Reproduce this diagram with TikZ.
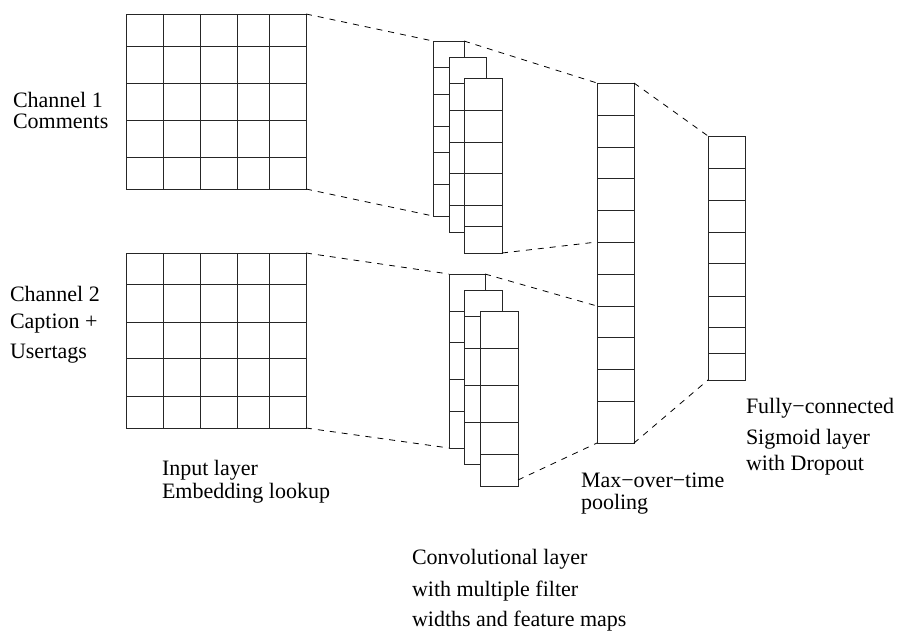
\documentclass[tikz,border=0pt]{standalone}
\usepackage{fontspec}
\setmainfont{Liberation Serif}
\newfontfamily\timesfam{Liberation Serif}
\tikzset{
  cell/.style={draw=black!85, line width=0.9pt, fill=white, inner sep=0pt, outer sep=0pt, anchor=north west},
  gridline/.style={draw=black!85, line width=0.9pt},
  link/.style={draw=black, line width=0.8pt, dash pattern=on 6pt off 6pt},
  lbl/.style={anchor=base west, inner sep=0pt, outer sep=0pt, font=\timesfam\fontsize{22}{26}\selectfont}
}
\begin{document}
\begin{tikzpicture}[x=1pt,y=-1pt]
\useasboundingbox (0,0) rectangle (897,632);

% input grids
\node[cell, minimum width=180pt, minimum height=175pt] (g1) at (126,14) {};
\foreach \x in {163,200,237,269} \draw[gridline] (\x,14) -- (\x,189);
\foreach \y in {46,83,120,157} \draw[gridline] (126,\y) -- (306,\y);

\node[cell, minimum width=180pt, minimum height=175pt] (g2) at (126,253) {};
\foreach \x in {163,200,237,269} \draw[gridline] (\x,253) -- (\x,428);
\foreach \y in {284,322,358,396} \draw[gridline] (126,\y) -- (306,\y);

% conv stack 1
\node[cell, minimum width=31pt, minimum height=175pt] (c1a) at (433,41) {};
\foreach \y in {67,94,126,152,184} \draw[gridline] (433,\y) -- (464,\y);
\node[cell, minimum width=37pt, minimum height=175pt] (c1b) at (449,57) {};
\foreach \y in {83,110,142,173,205} \draw[gridline] (449,\y) -- (486,\y);
\node[cell, minimum width=38pt, minimum height=175pt] (c1c) at (464,78) {};
\foreach \y in {110,142,173,205,226} \draw[gridline] (464,\y) -- (502,\y);

% conv stack 2
\node[cell, minimum width=36pt, minimum height=174pt] (c2a) at (449,274) {};
\foreach \y in {311,342,379,411} \draw[gridline] (449,\y) -- (485,\y);
\node[cell, minimum width=38pt, minimum height=174pt] (c2b) at (464,290) {};
\foreach \y in {316,348,385,422} \draw[gridline] (464,\y) -- (502,\y);
\node[cell, minimum width=38pt, minimum height=175pt] (c2c) at (480,311) {};
\foreach \y in {348,385,422,454} \draw[gridline] (480,\y) -- (518,\y);

% pooling
\node[cell, minimum width=37pt, minimum height=360pt] (pool) at (597,83) {};
\foreach \y in {115,147,178,210,242,274,306,337,369,401} \draw[gridline] (597,\y) -- (634,\y);

% fully connected
\node[cell, minimum width=37pt, minimum height=244pt] (fc) at (708,136) {};
\foreach \y in {168,200,232,263,296,327,353} \draw[gridline] (708,\y) -- (745,\y);

% connectors
\coordinate (p1) at (597,242);
\coordinate (p2) at (597,306);
\coordinate (c2out) at (518,480);
\draw[link] (g1.north east) -- (c1a.north west);
\draw[link] (g1.south east) -- (c1a.south west);
\draw[link] (c1a.north east) -- (pool.north west);
\draw[link] (c1c.south east) -- (p1);
\draw[link] (g2.north east) -- (c2a.north west);
\draw[link] (g2.south east) -- (c2a.south west);
\draw[link] (c2a.north east) -- (p2);
\draw[link] (c2out) -- (pool.south west);
\draw[link] (pool.north east) -- (fc.north west);
\draw[link] (pool.south east) -- (fc.south west);

% labels
\node[lbl] (l1a) at (13,107) {Channel 1};
\node[lbl] (l1b) at (13,128) {Comments};
\node[lbl] (l2a) at (10,301) {Channel 2};
\node[lbl] (l2b) at (10,328) {Caption +};
\node[lbl] (l2c) at (10,358) {Usertags};
\node[lbl] (in1) at (162,475) {Input layer};
\node[lbl] (in2) at (162,498) {Embedding lookup};
\node[lbl] (cv1) at (412,564) {Convolutional layer};
\node[lbl] (cv2) at (412,596) {with multiple filter};
\node[lbl] (cv3) at (412,626) {widths and feature maps};
\node[lbl] (mp1) at (581,487) {Max−over−time};
\node[lbl] (mp2) at (581,509) {pooling};
\node[lbl] (fc1) at (746,413) {Fully−connected};
\node[lbl] (fc2) at (746,444) {Sigmoid layer};
\node[lbl] (fc3) at (746,470) {with Dropout};
\end{tikzpicture}
\end{document}
